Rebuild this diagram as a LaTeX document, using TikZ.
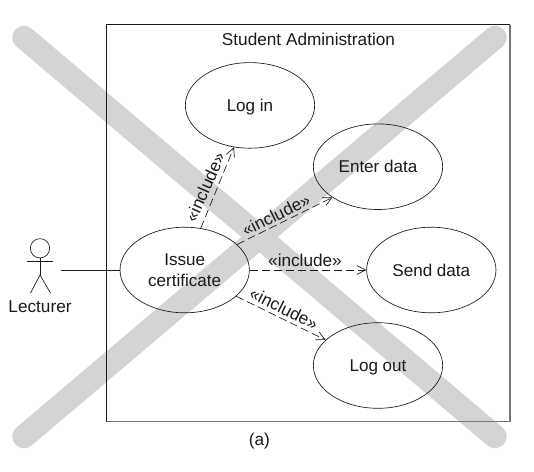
\documentclass[tikz,border=0pt]{standalone}
\usepackage{fontspec}
\setmainfont{Liberation Sans}
\usetikzlibrary{arrows.meta,shapes.geometric}
\definecolor{crossgray}{HTML}{D4D4D4}
\definecolor{ink}{HTML}{1A1A1A}
\definecolor{edgegray}{HTML}{777777}
\tikzset{
  px/.style={x=0.75pt,y=-0.75pt},
  usecase/.style={draw=ink,ellipse,minimum width=97pt,minimum height=64.2pt,inner sep=0pt,align=center,line width=0.5pt,font=\fontsize{12.8}{15.75}\selectfont,text=ink},
  caselow/.style={usecase,text depth=0pt},
  include/.style={draw=ink,dash pattern=on 6pt off 3pt,line width=0.5pt,-{Straight Barb[length=6.5pt,width=6.5pt,line width=0.5pt]}},
  lbl/.style={font=\fontsize{12.9}{15}\selectfont,text=ink,inner sep=0pt},
  crossbar/.style={draw=crossgray,line width=17.6pt,line cap=round},
  stick/.style={draw=ink,line width=0.5pt},
  frameedge/.style={draw=ink,line width=0.55pt},
  frameshade/.style={draw=edgegray,line width=1pt}
}
\begin{document}
\begin{tikzpicture}[px]
\useasboundingbox (0,0) rectangle (534,471);
\coordinate (xa) at (24,37.5);
\coordinate (xb) at (495,436.5);
\coordinate (xc) at (495,37.5);
\coordinate (xd) at (24,436.5);
\draw[crossbar] (xa) -- (xb);
\draw[crossbar] (xc) -- (xd);
\coordinate (fnw) at (106.5,24.5);
\coordinate (fne) at (510,24.5);
\coordinate (fse) at (510,421.7);
\coordinate (fsw) at (106.5,421.7);
\draw[frameshade,line join=miter] (fne) -- (fse) -- (fsw);
\draw[frameedge] (fsw) -- (fnw) -- (fne);
\node[lbl] (title) at (308.5,39) {Student Administration};
\node[caselow] (login) at (250,105.4) {Log in};
\node[usecase] (enter) at (378,166.7) {Enter data};
\node[usecase] (send) at (431.3,270) {Send data};
\node[caselow] (logout) at (378,365.5) {Log out};
\node[usecase] (issue) at (184.7,270) {Issue\\certificate};
\node[draw=ink,circle,line width=0.5pt,minimum size=14.5pt,inner sep=0pt] (head) at (40,248.3) {};
\coordinate (hip) at (40,275);
\coordinate (armL) at (27,261.7);
\coordinate (armR) at (52.7,261.7);
\coordinate (legL) at (30.5,293);
\coordinate (legR) at (50.5,293);
\draw[stick] (head.south) -- (hip);
\draw[stick] (armL) -- (armR);
\draw[stick] (legL) -- (hip) -- (legR);
\node[lbl] (lect) at (40,306.5) {Lecturer};
\coordinate (lineStart) at (61,270);
\draw[stick] (lineStart) -- (issue.west);
\draw[include] (issue.69) -- (login.249);
\draw[include] (issue.26) -- (enter.214.7);
\draw[include] (issue.east) -- (send.west);
\draw[include] (issue.-27) -- (logout.154);
\node[lbl,rotate=66] (i1) at (205,187) {«include»};
\node[lbl,rotate=26.5] (i2) at (276,215) {«include»};
\node[lbl] (i3) at (305,260.7) {«include»};
\node[lbl,rotate=-26.5] (i4) at (284,308.5) {«include»};
\node[lbl] (cap) at (259.3,441) {(a)};
\end{tikzpicture}
\end{document}
